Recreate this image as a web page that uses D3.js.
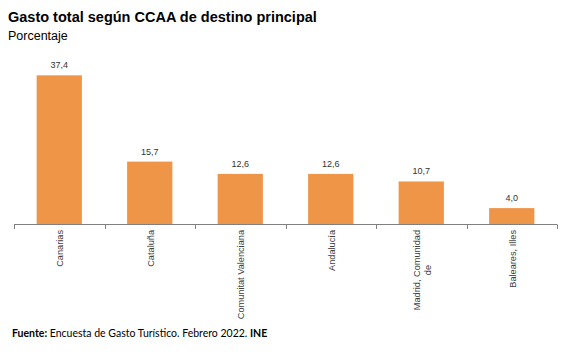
<!DOCTYPE html>
<html><head><meta charset="utf-8">
<script src="https://cdn.jsdelivr.net/npm/d3@7"></script>
<style>body{margin:0;background:#fff;}svg{display:block;}</style>
</head><body>
<script>
const categories = ["Canarias", "Cataluña", "Comunitat Valenciana", "Andalucía", "Madrid, Comunidad de", "Baleares, Illes"];
const categoryLines = [["Canarias"], ["Cataluña"], ["Comunitat Valenciana"], ["Andalucía"], ["Madrid, Comunidad", "de"], ["Baleares, Illes"]];
const values = [37.4, 15.7, 12.6, 12.6, 10.7, 4.0];
const title = "Gasto total según CCAA de destino principal";
const subtitle = "Porcentaje";

const W = 574, H = 355;
const svg = d3.select("body").append("svg").attr("width", W).attr("height", H);

svg.append("text").attr("x", 8).attr("y", 22).attr("font-family", "'Liberation Sans', Arial, sans-serif")
  .attr("font-size", 14.5).attr("font-weight", "bold").attr("fill", "#000").text(title);
svg.append("text").attr("x", 8).attr("y", 40).attr("font-family", "'Liberation Sans', Arial, sans-serif")
  .attr("font-size", 12.5).attr("fill", "#000").text(subtitle);

const x = d3.scaleBand().domain(categories).range([14, 557]).paddingInner(0.5).paddingOuter(0.25);
const y = d3.scaleLinear().domain([0, 40]).range([224, 65]);

svg.selectAll("rect.bar").data(values).enter().append("rect")
  .attr("x", (d, i) => x(categories[i]))
  .attr("y", d => y(d))
  .attr("width", x.bandwidth())
  .attr("height", d => y(0) - y(d))
  .attr("fill", "#ee9548");

svg.selectAll("text.val").data(values).enter().append("text")
  .attr("x", (d, i) => x(categories[i]) + x.bandwidth() / 2)
  .attr("y", d => y(d) - 7)
  .attr("text-anchor", "middle")
  .attr("font-family", "'Liberation Sans', Arial, sans-serif")
  .attr("font-size", 9).attr("fill", "#333")
  .text(d => d.toFixed(1).replace(".", ","));

// axis
const step = x.step();
const ax = svg.append("g");
ax.append("line").attr("x1", 14).attr("x2", 557).attr("y1", 224.5).attr("y2", 224.5)
  .attr("stroke", "#808080").attr("stroke-width", 1);
const bounds = d3.range(categories.length + 1).map(i => x(categories[0]) - x.paddingOuter() * step + i * step);
ax.selectAll("line.tick").data(bounds).enter().append("line")
  .attr("x1", d => Math.round(d) + 0.5).attr("x2", d => Math.round(d) + 0.5)
  .attr("y1", 224.5).attr("y2", 229).attr("stroke", "#808080");

// category labels
categories.forEach((c, i) => {
  const cx = x(c) + x.bandwidth() / 2 + 1;
  const g = svg.append("g").attr("transform", `translate(${cx},230) rotate(-90)`);
  const lines = categoryLines[i];
  const off = -(lines.length - 1) * 11 / 2;
  const texts = lines.map((l, k) => g.append("text")
    .attr("y", off + k * 11).attr("dy", "0.35em")
    .attr("text-anchor", "middle")
    .attr("font-family", "'Liberation Sans', Arial, sans-serif")
    .attr("font-size", 9.2).attr("fill", "#404040").text(l));
  const maxW = d3.max(texts, t => t.node().getComputedTextLength());
  texts.forEach(t => t.attr("x", -maxW / 2));
});

// footer
const f = svg.append("text").attr("x", 12).attr("y", 337)
  .attr("font-family", "Lato, 'Open Sans', sans-serif").attr("font-size", 10.5).attr("fill", "#000");
f.append("tspan").attr("font-weight", "bold").text("Fuente:");
f.append("tspan").text(" Encuesta de Gasto Turístico. Febrero 2022. ");
f.append("tspan").attr("font-weight", "bold").text("INE");
</script>
</body></html>
